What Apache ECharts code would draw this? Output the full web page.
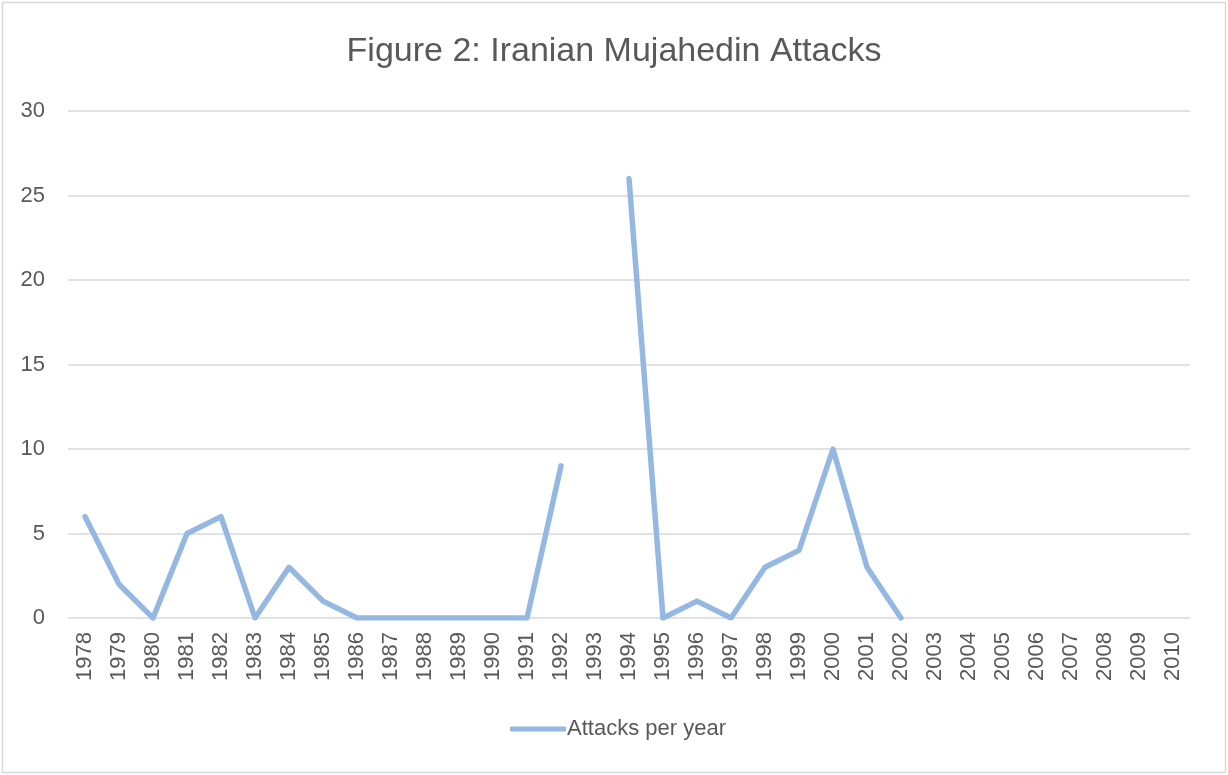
<!DOCTYPE html>
<html><head><meta charset="utf-8">
<script src="https://cdn.jsdelivr.net/npm/echarts@6/dist/echarts.min.js"></script>
<style>html,body{margin:0;padding:0;background:#fff}#c{width:1228px;height:775px}</style>
</head><body><div id="c"></div>
<script>
const years = ['1978','1979','1980','1981','1982','1983','1984','1985','1986','1987','1988','1989','1990','1991','1992','1993','1994','1995','1996','1997','1998','1999','2000','2001','2002','2003','2004','2005','2006','2007','2008','2009','2010'];
const attacks = [6,2,0,5,6,0,3,1,0,0,0,0,0,0,9,null,26,0,1,0,3,4,10,3,0,null,null,null,null,null,null,null,null];
const seriesName = 'Attacks per year';
const chart = echarts.init(document.getElementById('c'));
const font = '"Liberation Sans", sans-serif';
chart.setOption({
  backgroundColor:'#fff',
  animation:false,
  graphic:[{type:'rect',shape:{x:2.5,y:2.5,width:1223,height:770},style:{fill:'none',stroke:'#d9d9d9',lineWidth:1.5},silent:true}],
  title:{text:'Figure 2: Iranian Mujahedin Attacks',left:'center',top:30,textStyle:{fontFamily:font,fontSize:34,fontWeight:'normal',color:'#595959'}},
  legend:{data:[seriesName],bottom:30,left:505,itemWidth:56,itemHeight:5,itemGap:6,icon:'roundRect',
    textStyle:{fontFamily:font,fontSize:22,color:'#595959',padding:[0,0,0,-4]}},
  grid:{left:68,right:38,top:111,bottom:157,containLabel:false},
  xAxis:{type:'category',data:years,boundaryGap:true,
    axisLine:{show:false},axisTick:{show:false},
    axisLabel:{rotate:90,interval:0,margin:14,fontFamily:font,fontSize:22,color:'#595959'}},
  yAxis:{type:'value',min:0,max:30,interval:5,
    axisLine:{show:false},axisTick:{show:false},
    splitLine:{lineStyle:{color:'#d9d9d9',width:1.5}},
    axisLabel:{margin:23,fontFamily:font,fontSize:22,color:'#595959'}},
  series:[{name:seriesName,type:'line',data:attacks,connectNulls:false,showSymbol:false,symbol:'none',
    lineStyle:{color:'#95b8e2',width:5.5,cap:'round',join:'round'},itemStyle:{color:'#95b8e2'}}]
});
</script></body></html>
